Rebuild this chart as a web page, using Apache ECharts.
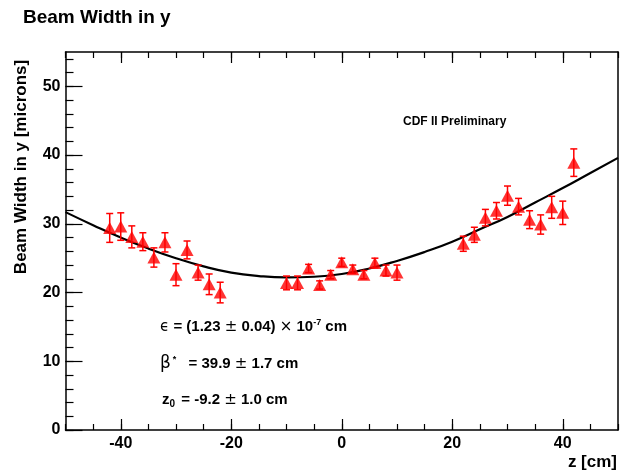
<!DOCTYPE html>
<html><head><meta charset="utf-8">
<script src="https://cdn.jsdelivr.net/npm/echarts@6/dist/echarts.min.js"></script>
<style>html,body{margin:0;padding:0;background:#fff}#c{width:621px;height:471px}</style>
</head><body><div id="c"></div>
<script>
// measured points
const zPos = [-42,-40,-38,-36,-34,-32,-30,-28,-26,-24,-22,-10,-8,-6,-4,-2,0,2,4,6,8,10,22,24,26,28,30,32,34,36,38,40,42];
const widthVals = [29.4,29.6,28.1,27.4,25.1,27.3,22.6,26.2,22.9,21.2,20.0,21.4,21.4,23.5,21.1,22.6,24.4,23.4,22.6,24.3,23.2,22.9,27.1,28.4,30.9,31.9,34.1,32.5,30.6,29.9,32.4,31.6,38.9];
const widthErr = [2.1,2.0,1.6,1.3,1.4,1.4,1.6,1.3,1.1,1.5,1.5,1.0,1.0,0.6,0.6,0.6,0.6,0.6,0.6,0.7,0.8,1.1,1.1,1.1,1.2,1.2,1.4,1.2,1.3,1.4,1.6,1.7,2.0];
// fit curve
const fitZ = [-50,-45,-40,-35,-30,-25,-20,-15,-10,-5,0,5,10,15,20,25,30,35,40,45,50];
const fitW = [31.7,29.8,28.0,26.4,25.0,23.8,22.9,22.4,22.2,22.3,22.7,23.5,24.6,25.9,27.4,29.2,31.0,33.1,35.2,37.4,39.6];
// ticks
const xMajorTicks = [-40,-20,0,20,40];
const xMinorTicks = [-50,-45,-40,-35,-30,-25,-20,-15,-10,-5,0,5,10,15,20,25,30,35,40,45,50];
const yMajorTicks = [0,10,20,30,40,50];
const yMinorTicks = [0,2,4,6,8,10,12,14,16,18,20,22,24,26,28,30,32,34,36,38,40,42,44,46,48,50,52,54];

const FF = '"Liberation Sans", Arial, sans-serif';
const chart = echarts.init(document.getElementById('c'), null, {renderer:'canvas'});
const lineS = {color:'#000', width:1.5};
function xAx(pos, ticks, len, showLine, showLabel){
  return {type:'value', min:-50, max:50, position:pos, gridIndex:0,
    axisLine:{show:showLine, onZero:false, lineStyle:lineS},
    axisTick:{show:true, inside:true, length:len, customValues:ticks, lineStyle:{color:'#000', width:1.2}},
    axisLabel:{show:showLabel, customValues:ticks, fontSize:16, fontWeight:'bold', color:'#000', fontFamily:FF, margin:6},
    splitLine:{show:false}};
}
function yAx(pos, ticks, len, showLine, showLabel, showTick){
  return {type:'value', min:0, max:55, position:pos, gridIndex:0,
    axisLine:{show:showLine, onZero:false, lineStyle:lineS},
    axisTick:{show:showTick, inside:true, length:len, customValues:ticks, lineStyle:{color:'#000', width:1.2}},
    axisLabel:{show:showLabel, customValues:ticks, fontSize:16, fontWeight:'bold', color:'#000', fontFamily:FF, margin:5},
    splitLine:{show:false}};
}
const pts = zPos.map((z,i)=>[z, widthVals[i], widthErr[i]]);
const option = {
  animation:false,
  backgroundColor:'#fff',
  grid:{left:65.5, right:3, top:52, bottom:41, containLabel:false},
  xAxis:[ xAx('bottom', xMajorTicks, 11, true, true), xAx('bottom', xMinorTicks, 6, false, false),
          xAx('top', xMajorTicks, 11, true, false), xAx('top', xMinorTicks, 6, false, false) ],
  yAxis:[ yAx('left', yMajorTicks, 17, true, true, true), yAx('left', yMinorTicks, 8, false, false, true),
          yAx('right', yMajorTicks, 0, true, false, false) ],
  series:[
    {type:'line', xAxisIndex:0, yAxisIndex:0, data:fitZ.map((z,i)=>[z, fitW[i]]), smooth:true, showSymbol:false,
     lineStyle:{color:'#000', width:2.2}, z:2},
    {type:'custom', xAxisIndex:0, yAxisIndex:0, data:pts, encode:{x:0,y:1}, z:3,
     renderItem:function(params, api){
       const x=api.value(0), y=api.value(1), e=api.value(2);
       const t=api.coord([x,y+e]), b=api.coord([x,y-e]);
       const cw=3.5, st={stroke:'#f00', lineWidth:1.5};
       return {type:'group', children:[
         {type:'line', shape:{x1:t[0],y1:t[1],x2:b[0],y2:b[1]}, style:st},
         {type:'line', shape:{x1:t[0]-cw,y1:t[1],x2:t[0]+cw,y2:t[1]}, style:st},
         {type:'line', shape:{x1:b[0]-cw,y1:b[1],x2:b[0]+cw,y2:b[1]}, style:st}
       ]};
     }},
    {type:'scatter', xAxisIndex:0, yAxisIndex:0, data:pts, encode:{x:0,y:1}, symbol:'triangle', symbolSize:[13,12],
     itemStyle:{color:'#f00'}, z:4}
  ],
  graphic:[
    {type:'text', x:23, y:8, style:{text:'Beam Width in y', fontSize:19, fontWeight:'bold', fontFamily:FF, fill:'#000'}},
    {type:'text', x:21, y:167, rotation:Math.PI/2, style:{text:'Beam Width in y [microns]', fontSize:17, fontWeight:'bold', fontFamily:FF, fill:'#000', align:'center', verticalAlign:'middle'}},
    {type:'text', x:617, y:462, style:{text:'z [cm]', fontSize:17, fontWeight:'bold', fontFamily:FF, fill:'#000', align:'right', verticalAlign:'middle'}},
    {type:'text', x:403, y:122, style:{text:'CDF II Preliminary', fontSize:12, fontWeight:'bold', fontFamily:FF, fill:'#000', align:'left', verticalAlign:'middle'}},
    {type:'text', x:160, y:327, style:{text:'{s|ϵ} = (1.23 {s|±} 0.04) {s|×} 10{sup|-7} cm', fontSize:15, fontWeight:'bold', fontFamily:FF, fill:'#000', verticalAlign:'middle',
      rich:{s:{fontSize:15, fontWeight:'normal', fontFamily:'"DejaVu Sans", sans-serif', fill:'#000'}, sup:{fontSize:9, fontWeight:'bold', fontFamily:FF, verticalAlign:'top', lineHeight:18, padding:[0,0,8,0]}}}},
    {type:'text', x:160, y:364, style:{text:'{b|β}{sup|*} = 39.9 {s|±} 1.7 cm', fontSize:15, fontWeight:'bold', fontFamily:FF, fill:'#000', verticalAlign:'middle',
      rich:{b:{fontSize:17, fontWeight:'normal', fontFamily:'"DejaVu Sans", sans-serif'}, s:{fontSize:15, fontWeight:'normal', fontFamily:'"DejaVu Sans", sans-serif'}, sup:{fontSize:9, fontWeight:'bold', fontFamily:FF, padding:[0,8,8,2]}}}},
    {type:'text', x:162, y:400, style:{text:'z{sub|0} = -9.2 {s|±} 1.0 cm', fontSize:15, fontWeight:'bold', fontFamily:FF, fill:'#000', verticalAlign:'middle',
      rich:{s:{fontSize:15, fontWeight:'normal', fontFamily:'"DejaVu Sans", sans-serif'}, sub:{fontSize:10, fontWeight:'bold', fontFamily:FF, padding:[8,2,0,0]}}}}
  ]
};
chart.setOption(option);
</script></body></html>
